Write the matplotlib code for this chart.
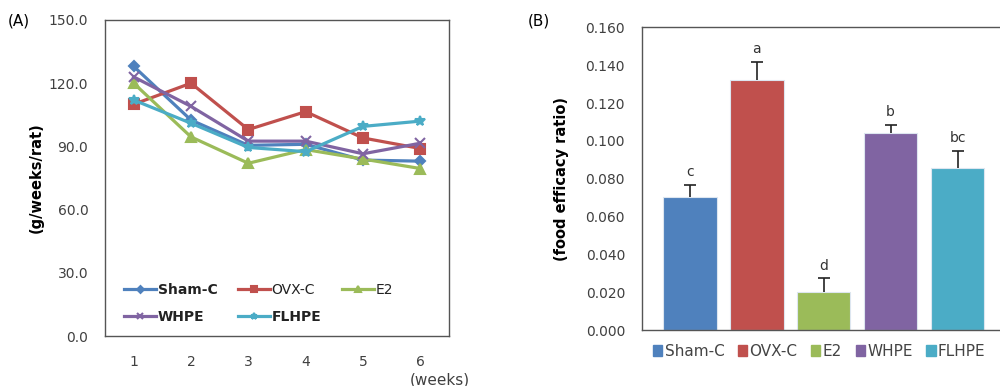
import matplotlib.pyplot as plt
from matplotlib.patches import Patch
import numpy as np

plt.rcParams['font.family'] = ['DejaVu Sans']

# panel A: weekly food intake
weeks = [1, 2, 3, 4, 5, 6]
sham_c = [128.0, 102.5, 90.5, 91.0, 83.5, 83.0]
ovx_c = [110.0, 120.0, 98.0, 106.5, 94.0, 89.0]
e2 = [120.0, 94.5, 82.0, 88.5, 84.0, 79.5]
whpe = [123.0, 109.0, 92.5, 92.5, 86.5, 91.5]
flhpe = [112.0, 101.0, 89.5, 87.5, 99.5, 102.0]

# panel B: food efficacy ratio
groups = ['Sham-C', 'OVX-C', 'E2', 'WHPE', 'FLHPE']
fer = [0.0701, 0.1321, 0.0201, 0.1040, 0.0855]
fer_err = [0.0065, 0.0097, 0.0072, 0.0044, 0.0091]
letters = ['c', 'a', 'd', 'b', 'bc']

colors = ['#4F81BD', '#C0504D', '#9BBB59', '#8064A2', '#4BACC6']
markers = ['D', 's', '^', 'x', '*']
tick_col = '#404040'

fig = plt.figure(figsize=(10, 3.86), dpi=100)

# ---- (A)
axA = fig.add_axes([0.105, 0.1295, 0.344, 0.8187])
series = [sham_c, ovx_c, e2, whpe, flhpe]
lines = []
for s, c, m, name in zip(series, colors, markers, groups):
  ms = 5 if m == 'D' else 7
  ln, = axA.plot(weeks, s, color=c, marker=m, ms=ms, lw=2.3, mew=1.5, label=name)
  lines.append(ln)
axA.set_xlim(0.5, 6.5)
axA.set_ylim(0, 150)
axA.set_yticks(np.arange(0, 151, 30))
axA.set_yticklabels([f'{v:.1f}' for v in np.arange(0, 151, 30)])
axA.set_xticks(weeks)
axA.tick_params(axis='both', length=0, labelsize=10, labelcolor=tick_col, pad=12)
axA.tick_params(axis='x', pad=14)
for sp in axA.spines.values():
  sp.set_color('#555555')
  sp.set_linewidth(1.0)
axA.set_ylabel('(g/weeks/rat)', fontsize=10.5, fontweight='bold', labelpad=4)
order = [0, 3, 1, 4, 2]
leg = axA.legend([lines[i] for i in order], [groups[i] for i in order], ncol=3,
                 loc='lower left', bbox_to_anchor=(0.02, 0.0), frameon=False,
                 fontsize=10, handlelength=2.3, columnspacing=1.5, handletextpad=0.1,
                 labelspacing=0.9, markerscale=0.7)
weights = {'Sham-C': 'bold', 'OVX-C': 'normal', 'E2': 'normal', 'WHPE': 'bold', 'FLHPE': 'bold'}
for t in leg.get_texts():
  t.set_fontweight(weights[t.get_text()])
  t.set_color('#222222')
fig.text(0.44, -0.005, '(weeks)', fontsize=11, color=tick_col, ha='center', va='bottom')
fig.text(0.008, 0.935, '(A)', fontsize=11)

# ---- (B)
axB = fig.add_axes([0.6417, 0.145, 0.364, 0.784])
x = np.arange(len(groups))
axB.bar(x, fer, width=0.8, color=colors, edgecolor='#dde6f0', linewidth=0.8, zorder=2)
eb = axB.errorbar(x, fer, yerr=[np.zeros(len(fer)), fer_err], fmt='none', ecolor='#222222',
                  elinewidth=1.2, capsize=4, capthick=1.2, zorder=3)
eb[1][0].remove()  # only the upper cap, like the original
for xi, v, e, l in zip(x, fer, fer_err, letters):
  axB.text(xi, v + e + 0.003, l, ha='center', va='bottom', fontsize=10, color='#333333')
axB.set_xlim(-0.72, 4.72)
axB.set_ylim(0, 0.16)
yt = np.arange(0, 0.161, 0.02)
axB.set_yticks(yt)
axB.set_yticklabels([f'{v:.3f}' for v in yt])
axB.set_xticks([])
axB.tick_params(axis='y', length=0, labelsize=10, labelcolor=tick_col, pad=12)
for sp in axB.spines.values():
  sp.set_color('#555555')
  sp.set_linewidth(1.0)
axB.set_ylabel('(food efficacy ratio)', fontsize=10.5, fontweight='bold', labelpad=12)
handles = [Patch(color=c) for c in colors]
axB.legend(handles, groups, ncol=5, loc='upper left', bbox_to_anchor=(0.647, 0.125),
           bbox_transform=fig.transFigure, frameon=False, fontsize=11,
           handlelength=0.6, handleheight=0.7, handletextpad=0.15, columnspacing=0.9,
           labelcolor='#444444', borderaxespad=0)
fig.text(0.528, 0.935, '(B)', fontsize=11)

fig.savefig('out.png', dpi=100)
